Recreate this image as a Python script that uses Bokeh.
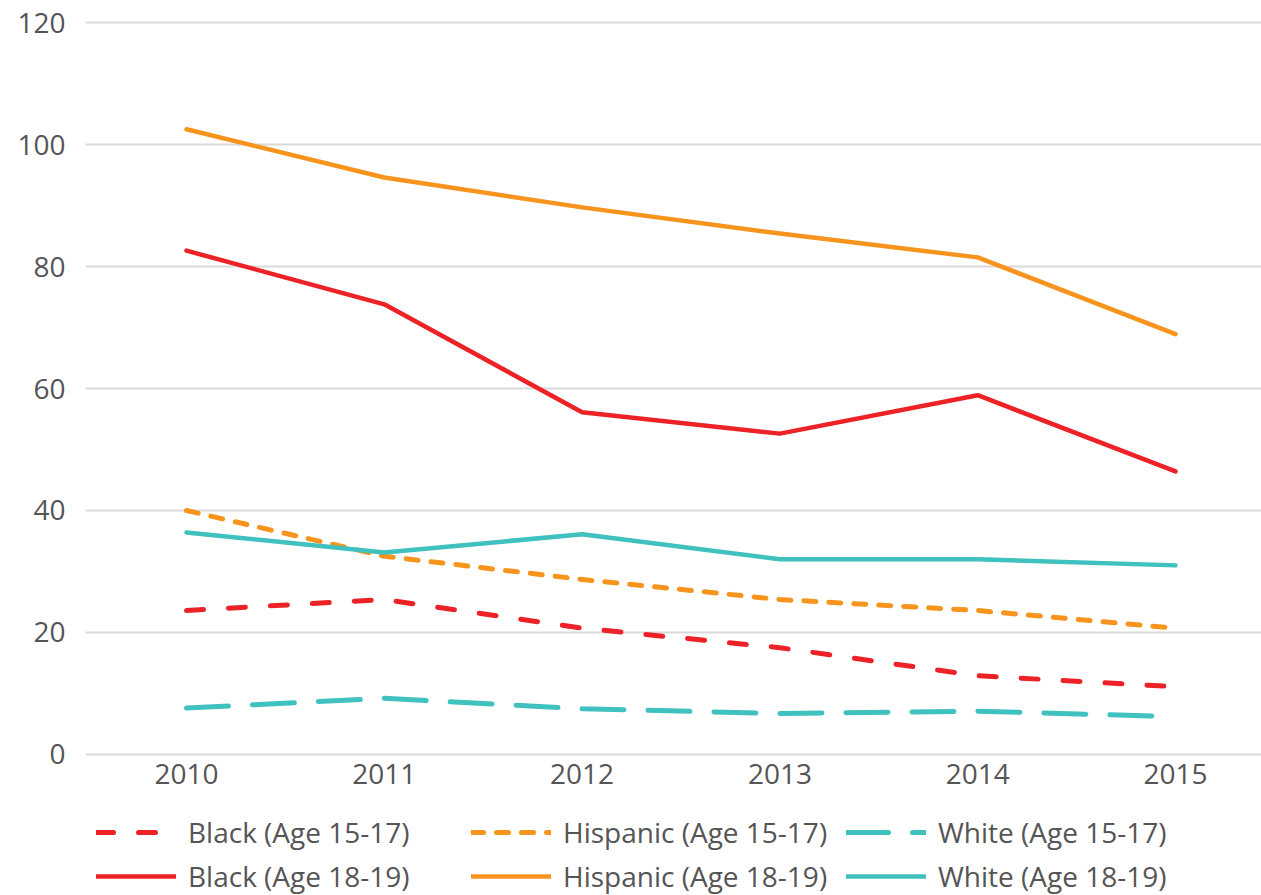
from bokeh.plotting import figure
from bokeh.layouts import column
from bokeh.models import Range1d, FixedTicker, Legend, LegendItem
from bokeh.embed import file_html
from bokeh.resources import INLINE

years = [2010, 2011, 2012, 2013, 2014, 2015]
black_15_17 = [23.6, 25.4, 20.7, 17.5, 12.9, 11.1]
hispanic_15_17 = [40.0, 32.5, 28.7, 25.4, 23.6, 20.7]
white_15_17 = [7.6, 9.2, 7.5, 6.7, 7.1, 6.2]
black_18_19 = [82.6, 73.8, 56.1, 52.6, 58.9, 46.4]
hispanic_18_19 = [102.5, 94.6, 89.7, 85.4, 81.5, 68.9]
white_18_19 = [36.4, 33.1, 36.1, 32.0, 32.0, 31.0]
y_ticks = [0, 20, 40, 60, 80, 100, 120]
labels = ["Black (Age 15-17)", "Hispanic (Age 15-17)", "White (Age 15-17)",
          "Black (Age 18-19)", "Hispanic (Age 18-19)", "White (Age 18-19)"]

RED = "#ec2227"
ORANGE = "#f7941d"
TEAL = "#3ec1bf"
TXT = "#555555"
FONT = "Open Sans"

styles = [
    dict(line_color=RED, line_width=5, line_dash="17 25"),
    dict(line_color=ORANGE, line_width=5, line_dash="12 13"),
    dict(line_color=TEAL, line_width=5, line_dash="42 24"),
    dict(line_color=RED, line_width=4.5),
    dict(line_color=ORANGE, line_width=4.5),
    dict(line_color=TEAL, line_width=4.5),
]
series = [black_15_17, hispanic_15_17, white_15_17, black_18_19, hispanic_18_19, white_18_19]

p = figure(width=1261, height=805, output_backend="svg", toolbar_location=None,
           x_range=Range1d(2009.4894, 2015.4348), y_range=Range1d(-0.5, 120.5),
           min_border_left=85, min_border_right=0, min_border_top=19, min_border_bottom=48)
p.outline_line_color = None
p.xgrid.visible = False
p.ygrid.grid_line_color = "#d9d9d9"
p.ygrid.grid_line_width = 2
p.ygrid.ticker = FixedTicker(ticks=y_ticks)

p.xaxis.ticker = FixedTicker(ticks=years)
p.yaxis.ticker = FixedTicker(ticks=y_ticks)
for ax in (p.xaxis[0], p.yaxis[0]):
    ax.axis_line_color = None
    ax.major_tick_line_color = None
    ax.minor_tick_line_color = None
    ax.major_tick_out = 0
    ax.major_tick_in = 0
    ax.major_label_text_font = FONT
    ax.major_label_text_font_size = "28px"
    ax.major_label_text_color = TXT
p.xaxis.major_label_standoff = 6
p.yaxis.major_label_standoff = 20

common = dict(line_cap="round", line_join="round")
for ys, st in zip(series, styles):
    p.line(years, ys, **st, **common)

# legend panel: its own small figure whose ranges exclude the data, so only the legend shows
lg = figure(width=1261, height=90, output_backend="svg", toolbar_location=None,
            x_range=Range1d(0, 1), y_range=Range1d(0, 1),
            x_axis_type=None, y_axis_type=None,
            min_border=0, min_border_left=85, min_border_right=0,
            min_border_top=0, min_border_bottom=0)
lg.outline_line_color = None
lg.xgrid.visible = False
lg.ygrid.visible = False
items = []
for lab, ys, st in zip(labels, series, styles):
    r = lg.line(years, ys, **st, **common)
    items.append(LegendItem(label=lab, renderers=[r]))

legend = Legend(items=items, location=(11, 0), orientation="horizontal", ncols=3)
legend.label_text_font = FONT
legend.label_text_font_size = "28px"
legend.label_text_color = TXT
legend.glyph_width = 80
legend.glyph_height = 30
legend.label_height = 30
legend.label_width = 277
legend.label_standoff = 12
legend.spacing = 6
legend.padding = 0
legend.margin = 0
legend.border_line_color = None
legend.background_fill_alpha = 0
lg.add_layout(legend, "center")

layout = column(p, lg, spacing=0)
open("out.html", "w").write(file_html(layout, INLINE))
